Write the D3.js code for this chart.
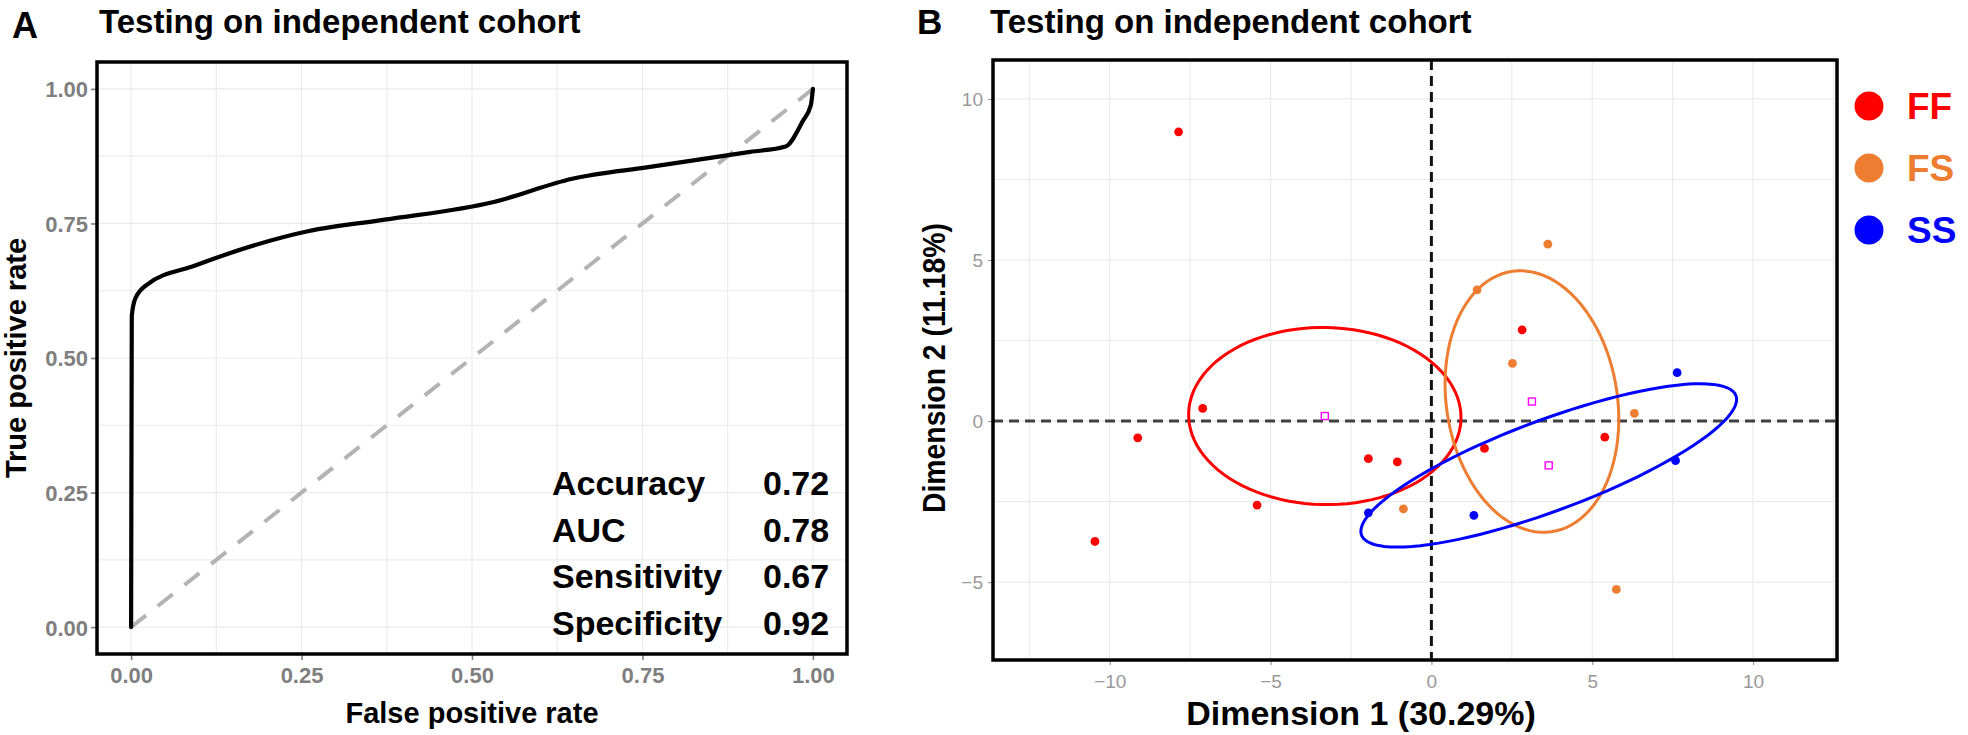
<!DOCTYPE html>
<html><head><meta charset="utf-8">
<script src="https://cdn.jsdelivr.net/npm/d3@7"></script>
<style>
body{margin:0;background:#fff;}
svg{display:block;font-family:"Liberation Sans",Arial,Helvetica,sans-serif;}
</style>
</head><body>
<svg id="chart" width="1968" height="735"></svg>
<script>
// ---------- Panel A data (ROC) ----------
const rocFpr = [0, 0.001, 0.006, 0.023, 0.094, 0.261, 0.372, 0.532, 0.647, 0.761, 0.908, 0.96, 0.985, 0.997, 1.0];
const rocTpr = [0, 0.578, 0.610, 0.636, 0.672, 0.736, 0.757, 0.790, 0.833, 0.855, 0.883, 0.893, 0.94, 0.97, 1.0];
const rocTicks = [0, 0.25, 0.5, 0.75, 1];
const rocGrid = [0, 0.125, 0.25, 0.375, 0.5, 0.625, 0.75, 0.875, 1];
const metricNames = ["Accuracy", "AUC", "Sensitivity", "Specificity"];
const metricValues = ["0.72", "0.78", "0.67", "0.92"];

// ---------- Panel B data (PCA individuals) ----------
const groups = ["FF", "FS", "SS"];
const groupColors = ["#ff0000", "#ed7d31", "#0000ff"];
const ffPoints = [[-7.86, 8.98], [-7.11, 0.39], [-9.13, -0.52], [-10.46, -3.74], [-5.42, -2.61],
                  [-1.96, -1.17], [-1.06, -1.27], [2.82, 2.83], [5.39, -0.50], [1.65, -0.85]];
const fsPoints = [[3.62, 5.49], [1.42, 4.07], [2.52, 1.79], [6.31, 0.24], [5.75, -5.23], [-0.87, -2.73]];
const ssPoints = [[7.64, 1.50], [7.59, -1.23], [1.32, -2.93], [-1.96, -2.85]];
const pcaXTicks = [-10, -5, 0, 5, 10];
const pcaYTicks = [-5, 0, 5, 10];
const pcaXGrid = [-12.5, -10, -7.5, -5, -2.5, 0, 2.5, 5, 7.5, 10, 12.5];
const pcaYGrid = [-5, -2.5, 0, 2.5, 5, 7.5, 10];
const confLevel = 0.95;

const svg = d3.select("#chart");
const minus = s => String(s).replace("-", "\u2212");

// ================= PANEL A =================
const A = {l: 97, r: 847, t: 62, b: 654};
const xA = d3.scaleLinear().domain([-0.05, 1.05]).range([A.l, A.r]);
const yA = d3.scaleLinear().domain([-0.05, 1.05]).range([A.b, A.t]);
const gA = svg.append("g");

gA.append("g").selectAll("line").data(rocGrid).join("line")
  .attr("x1", d => xA(d)).attr("x2", d => xA(d)).attr("y1", A.t).attr("y2", A.b)
  .attr("stroke", "#ebebeb").attr("stroke-width", 1.2);
gA.append("g").selectAll("line").data(rocGrid).join("line")
  .attr("y1", d => yA(d)).attr("y2", d => yA(d)).attr("x1", A.l).attr("x2", A.r)
  .attr("stroke", "#ebebeb").attr("stroke-width", 1.2);

// diagonal
gA.append("line").attr("x1", xA(0)).attr("y1", yA(0)).attr("x2", xA(1)).attr("y2", yA(1))
  .attr("stroke", "#b3b3b3").attr("stroke-width", 4).attr("stroke-dasharray", "19,15");

// ROC curve
const rocData = rocFpr.map((f, i) => [f, rocTpr[i]]);
gA.append("path").datum(rocData)
  .attr("d", d3.line().x(d => xA(d[0])).y(d => yA(d[1])).curve(d3.curveMonotoneX))
  .attr("fill", "none").attr("stroke", "#000").attr("stroke-width", 4.2)
  .attr("stroke-linejoin", "round").attr("stroke-linecap", "round");

// metrics
const metricStep = 46.7;
metricNames.forEach((m, i) => {
  gA.append("text").attr("x", 552).attr("y", 495 + i * metricStep)
    .attr("font-size", 34).attr("font-weight", "bold").attr("fill", "#000").text(m);
  gA.append("text").attr("x", 763).attr("y", 495 + i * metricStep)
    .attr("font-size", 34).attr("font-weight", "bold").attr("fill", "#000").text(metricValues[i]);
});

// axes A
const axAB = gA.append("g").attr("transform", `translate(0,${A.b})`)
  .call(d3.axisBottom(xA).tickValues(rocTicks).tickFormat(d3.format(".2f")).tickSize(6).tickPadding(7));
const axAL = gA.append("g").attr("transform", `translate(${A.l},0)`)
  .call(d3.axisLeft(yA).tickValues(rocTicks).tickFormat(d3.format(".2f")).tickSize(6).tickPadding(3));
[axAB, axAL].forEach(ax => {
  ax.select(".domain").remove();
  ax.selectAll(".tick line").attr("stroke", "#7f7f7f").attr("stroke-width", 1.6);
  ax.selectAll(".tick text").attr("fill", "#7f7f7f").attr("font-size", 22).attr("font-weight", "bold")
    .attr("font-family", "'Liberation Sans', Arial, sans-serif");
});
axAL.selectAll(".tick text").attr("dy", "0.36em");

gA.append("rect").attr("x", A.l).attr("y", A.t).attr("width", A.r - A.l).attr("height", A.b - A.t)
  .attr("fill", "none").attr("stroke", "#000").attr("stroke-width", 3.5);

gA.append("text").attr("x", (A.l + A.r) / 2).attr("y", 723).attr("text-anchor", "middle")
  .attr("font-size", 29).attr("font-weight", "bold").text("False positive rate");
gA.append("text").attr("transform", `translate(26,${(A.t + A.b) / 2}) rotate(-90)`)
  .attr("text-anchor", "middle").attr("font-size", 29).attr("font-weight", "bold").text("True positive rate");

gA.append("text").attr("x", 12).attr("y", 38).attr("font-size", 36).attr("font-weight", "bold").text("A");
gA.append("text").attr("x", 99).attr("y", 33).attr("font-size", 33).attr("font-weight", "bold")
  .text("Testing on independent cohort");

// ================= PANEL B =================
const B = {l: 993, r: 1837, t: 60, b: 660};
const xB = d3.scaleLinear().domain([-13.63, 12.61]).range([B.l, B.r]);
const yB = d3.scaleLinear().domain([-7.42, 11.21]).range([B.b, B.t]);
const gB = svg.append("g");

gB.append("g").selectAll("line").data(pcaXGrid).join("line")
  .attr("x1", d => xB(d)).attr("x2", d => xB(d)).attr("y1", B.t).attr("y2", B.b)
  .attr("stroke", "#ebebeb").attr("stroke-width", 1.2);
gB.append("g").selectAll("line").data(pcaYGrid).join("line")
  .attr("y1", d => yB(d)).attr("y2", d => yB(d)).attr("x1", B.l).attr("x2", B.r)
  .attr("stroke", "#ebebeb").attr("stroke-width", 1.2);

// zero lines
gB.append("line").attr("x1", B.l).attr("x2", B.r).attr("y1", yB(0)).attr("y2", yB(0))
  .attr("stroke", "#404040").attr("stroke-width", 3).attr("stroke-dasharray", "10,6");
gB.append("line").attr("x1", xB(0)).attr("x2", xB(0)).attr("y1", B.t).attr("y2", B.b)
  .attr("stroke", "#111").attr("stroke-width", 3).attr("stroke-dasharray", "10,6");

const allGroups = [ffPoints, fsPoints, ssPoints];

// confidence ellipse of the group mean (covariance / n, chi-square with 2 df)
function confEllipse(pts) {
  const n = pts.length;
  const mx = d3.mean(pts, p => p[0]), my = d3.mean(pts, p => p[1]);
  let sxx = 0, syy = 0, sxy = 0;
  pts.forEach(p => { sxx += (p[0] - mx) ** 2; syy += (p[1] - my) ** 2; sxy += (p[0] - mx) * (p[1] - my); });
  sxx /= (n - 1) * n; syy /= (n - 1) * n; sxy /= (n - 1) * n;
  const sx = Math.sqrt(sxx), sy = Math.sqrt(syy);
  const r = sxy / (sx * sy);
  const t = Math.sqrt(-2 * Math.log(1 - confLevel));
  const dd = Math.acos(r);
  const out = d3.range(101).map(i => {
    const a = -Math.PI + 2 * Math.PI * i / 100;
    return [mx + t * sx * Math.cos(a + dd / 2), my + t * sy * Math.cos(a - dd / 2)];
  });
  return {mx, my, path: out};
}

const lineB = d3.line().x(d => xB(d[0])).y(d => yB(d[1]));

allGroups.forEach((pts, gi) => {
  gB.append("g").selectAll("circle").data(pts).join("circle")
    .attr("cx", d => xB(d[0])).attr("cy", d => yB(d[1])).attr("r", 4.4)
    .attr("fill", groupColors[gi]);
});
allGroups.forEach((pts, gi) => {
  const e = confEllipse(pts);
  gB.append("path").datum(e.path).attr("d", lineB).attr("fill", "none")
    .attr("stroke", groupColors[gi]).attr("stroke-width", 3);
  gB.append("rect").attr("x", xB(e.mx) - 3.5).attr("y", yB(e.my) - 3.5).attr("width", 7).attr("height", 7)
    .attr("fill", "none").attr("stroke", "#ff00ff").attr("stroke-width", 1.4);
});

const axBB = gB.append("g").attr("transform", `translate(0,${B.b})`)
  .call(d3.axisBottom(xB).tickValues(pcaXTicks).tickFormat(minus).tickSize(5).tickPadding(10));
const axBL = gB.append("g").attr("transform", `translate(${B.l},0)`)
  .call(d3.axisLeft(yB).tickValues(pcaYTicks).tickFormat(minus).tickSize(5).tickPadding(5));
[axBB, axBL].forEach(ax => {
  ax.select(".domain").remove();
  ax.selectAll(".tick line").attr("stroke", "#999").attr("stroke-width", 1.2);
  ax.selectAll(".tick text").attr("fill", "#999").attr("font-size", 19)
    .attr("font-family", "'Liberation Sans', Arial, sans-serif");
});
axBL.selectAll(".tick text").attr("dy", "0.36em");

gB.append("rect").attr("x", B.l).attr("y", B.t).attr("width", B.r - B.l).attr("height", B.b - B.t)
  .attr("fill", "none").attr("stroke", "#000").attr("stroke-width", 3.5);

gB.append("text").attr("x", 1361).attr("y", 725).attr("text-anchor", "middle")
  .attr("font-size", 34).attr("font-weight", "bold").text("Dimension 1 (30.29%)");
gB.append("text").attr("transform", `translate(945,368) rotate(-90)`)
  .attr("text-anchor", "middle").attr("font-size", 31).attr("font-weight", "bold")
  .attr("textLength", 290).attr("lengthAdjust", "spacingAndGlyphs").text("Dimension 2 (11.18%)");

gB.append("text").attr("x", 917).attr("y", 34).attr("font-size", 35).attr("font-weight", "bold").text("B");
gB.append("text").attr("x", 990).attr("y", 33).attr("font-size", 33).attr("font-weight", "bold")
  .text("Testing on independent cohort");

// legend
const legY = [106, 168, 230];
groups.forEach((g, i) => {
  svg.append("circle").attr("cx", 1869).attr("cy", legY[i]).attr("r", 14.5).attr("fill", groupColors[i]);
  svg.append("text").attr("x", 1907).attr("y", legY[i] + 13).attr("font-size", 37).attr("font-weight", "bold")
    .attr("fill", groupColors[i]).text(g);
});
</script>
</body></html>
